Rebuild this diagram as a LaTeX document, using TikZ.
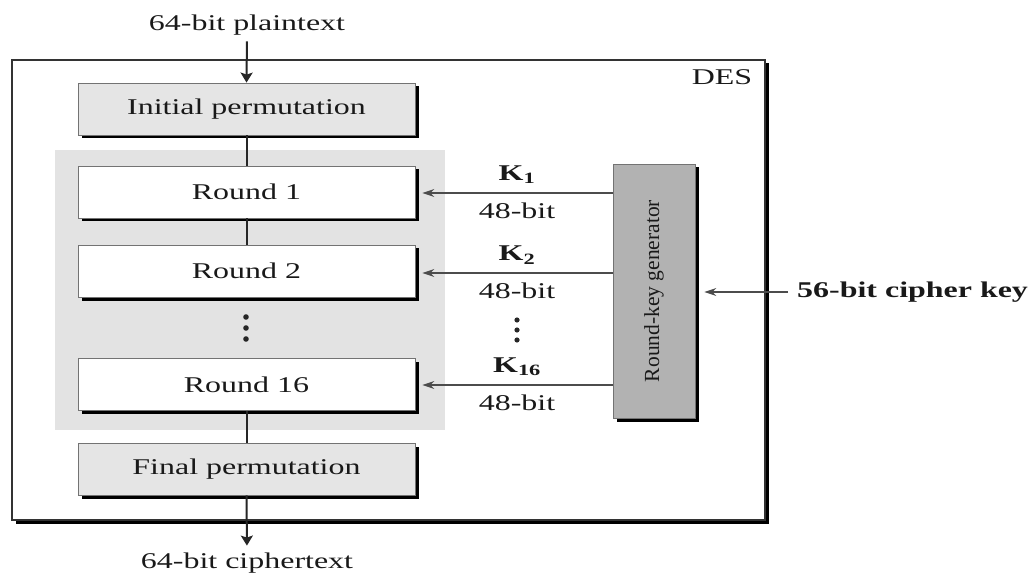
\documentclass[tikz,border=0pt]{standalone}
\usepackage{fontspec}
\setmainfont{Liberation Serif}[FakeStretch=1.42]
\newfontfamily\rotfont{Liberation Serif}
\usetikzlibrary{arrows.meta,shadows}
\begin{document}
\begin{tikzpicture}[x=1pt,y=-1pt,
  txt/.style={font=\fontsize{22.5}{26}\selectfont, inner sep=0pt, text=black!90},
  blk/.style={drop shadow={shadow xshift=3.5pt, shadow yshift=-3.5pt, fill=black, opacity=1}},
  stage/.style={blk, draw=black!55, line width=0.8pt, minimum width=337pt, minimum height=52pt, inner sep=0pt, font=\fontsize{22.5}{26}\selectfont, text=black!90},
  perm/.style={stage, fill=black!10},
  rnd/.style={stage, fill=white},
  vconn/.style={line width=2pt, black!85},
  thickarrow/.style={line width=2pt, black!85, -{Stealth[length=10pt,width=12pt,inset=2pt]}},
  thinarrow/.style={line width=1.2pt, black!70, -{Stealth[length=12pt,width=8pt,inset=4pt]}},
  dot/.style={fill=black!85}
]
\useasboundingbox (0,0) rectangle (1033,577);
% DES frame
\node (des) [blk, draw=black!80, line width=1.5pt, fill=white, minimum width=753pt, minimum height=460pt, inner sep=0pt] at (388.5,290) {};
\node (deslabel) [txt] at (722,77) {DES};
% gray rounds region
\node (bg) [fill=black!11, minimum width=390pt, minimum height=280pt, inner sep=0pt] at (250,290) {};
% stages
\node (init) [perm] at (246.5,109) {Initial permutation};
\node (r1) [rnd] at (246.5,192) {Round 1};
\node (r2) [rnd] at (246.5,271) {Round 2};
\node (r16) [rnd] at (246.5,384.5) {Round 16};
\node (final) [perm] at (246.5,469) {Final permutation};
% round-key generator
\node (rkg) [blk, draw=black!55, line width=0.8pt, fill=black!30, minimum width=82pt, minimum height=254pt, inner sep=0pt] at (654,291) {};
\node (rkgtext) [rotate=90, inner sep=0pt, font=\rotfont\fontsize{21.5}{25}\selectfont, text=black!90] at (rkg.center) {Round-key generator};
% vertical connectors
\draw[vconn] (init.south) -- (r1.north);
\draw[vconn] (r1.south) -- (r2.north);
\draw[vconn] (r16.south) -- (final.north);
% plaintext / ciphertext
\node (plain) [txt] at (247,25) {64-bit plaintext};
\node (cipher) [txt] at (247,563) {64-bit ciphertext};
\draw[thickarrow, shorten <=6pt] (plain.south) -- (init.north);
\draw[thickarrow, shorten >=7pt] (final.south) -- (cipher.north);
% dots between rounds
\fill[dot] (246,317) circle (2.8);
\fill[dot] (246,328) circle (2.8);
\fill[dot] (246,339) circle (2.8);
% key arrows
\draw[thinarrow] (rkg.west |- 0,193) -- ([xshift=7pt]r1.east |- 0,193);
\draw[thinarrow] (rkg.west |- 0,273) -- ([xshift=7pt]r2.east |- 0,273);
\draw[thinarrow] (rkg.west |- 0,385) -- ([xshift=7pt]r16.east |- 0,385);
\node (k1) [txt] at (517,175) {\textbf{K\textsubscript{1}}};
\node (b1) [txt] at (517,211) {48-bit};
\node (k2) [txt] at (517,255) {\textbf{K\textsubscript{2}}};
\node (b2) [txt] at (517,291) {48-bit};
\node (k16) [txt] at (517,367) {\textbf{K\textsubscript{16}}};
\node (b16) [txt] at (517,403) {48-bit};
\fill[dot] (517,320) circle (2.6);
\fill[dot] (517,330) circle (2.6);
\fill[dot] (517,340) circle (2.6);
% cipher key
\node (key) [txt, anchor=west] at (797,292) {\textbf{56-bit cipher key}};
\draw[thinarrow, shorten <=9pt, shorten >=9pt] (key.west) -- (rkg.east |- key.west);
\end{tikzpicture}
\end{document}
